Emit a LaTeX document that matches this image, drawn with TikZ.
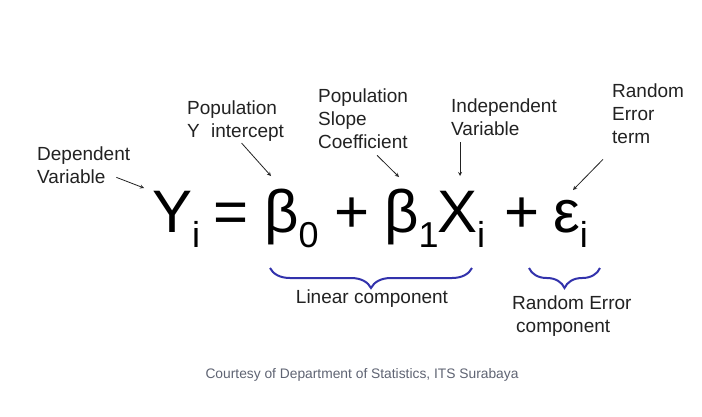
\documentclass[tikz,border=0pt]{standalone}
\usepackage{fontspec}
\setmainfont{Liberation Sans}
\usepackage{tikz}
\usetikzlibrary{arrows, positioning, decorations.pathreplacing}
\definecolor{regblue}{RGB}{50, 50, 172}
\definecolor{labelgray}{RGB}{34, 34, 34}
\definecolor{creditgray}{RGB}{95, 100, 115}
\newcommand{\subidx}[1]{\raisebox{-15pt}{\fontsize{36}{36}\selectfont #1}}

\begin{document}
\begin{tikzpicture}[
    x=1pt, y=-1pt,
    every node/.style={inner sep=0pt},
    label/.style={anchor=north west, align=left, font=\fontsize{19}{23}\selectfont, text=labelgray},
    term/.style={anchor=base west, font=\fontsize{60}{60}\selectfont},
    arrow/.style={->, >=stealth, line width=0.8pt, color=labelgray},
    brace/.style={decorate, decoration={brace, mirror, amplitude=20pt}, draw=regblue, line width=2pt}
]
\useasboundingbox[fill=white] (0,0) rectangle (702,416);

% the equation
\node[term] (yterm) at (152,232) {Y\subidx{i}};
\node[term] (eqsign) at (213,232) {=};
\node[term] (bzero) at (264,232) {β\subidx{0}};
\node[term] (plusone) at (334,232) {+};
\node[term] (bone) at (384,232) {β\subidx{1}};
\node[term] (xterm) at (437,232) {X\subidx{i}};
\node[term] (plustwo) at (504,232) {+};
\node[term] (epsterm) at (553,232) {ε\subidx{i}};

% labels
\node[label] (depvar) at (37,147) {Dependent\\Variable};
\node[label] (popint) at (187,101) {Population\\Y\hspace{6pt} intercept};
\node[label] (popslope) at (318,89) {Population\\Slope\\Coefficient};
\node[label] (indepvar) at (451,99) {Independent\\Variable};
\node[label] (randterm) at (612,84) {Random\\Error\\term};

\coordinate (ytip) at (144,188);
\coordinate (bzerotip) at (271,176);
\coordinate (bonetip) at (399,177);
\coordinate (xtip) at (460,176);
\coordinate (epstip) at (573,190);

\draw[arrow] ([shift={(-14,-7)}]depvar.south east) -- (ytip);
\draw[arrow] ([shift={(6,1)}]popint.south) -- (bzerotip);
\draw[arrow] ([shift={(14,6)}]popslope.south) -- (bonetip);
\draw[arrow] ([shift={(9,6)}]indepvar.south west) -- (xtip);
\draw[arrow] ([shift={(-9,15)}]randterm.south west) -- (epstip);

% braces
\coordinate (linleft) at (270,268);
\coordinate (linright) at (472,268);
\coordinate (errleft) at (529,268);
\coordinate (errright) at (600,268);
\draw[brace] (linleft) -- (linright);
\draw[brace] (errleft) -- (errright);

\node[label, anchor=north] (linlabel) at (372,290) {Linear component};
\node[label] (errlabel) at (512,296) {Random Error\\\hspace{4pt}component};

\node[font=\fontsize{13.8}{16}\selectfont, text=creditgray] (credit) at (362,375) {Courtesy of Department of Statistics, ITS Surabaya};

\end{tikzpicture}
\end{document}
